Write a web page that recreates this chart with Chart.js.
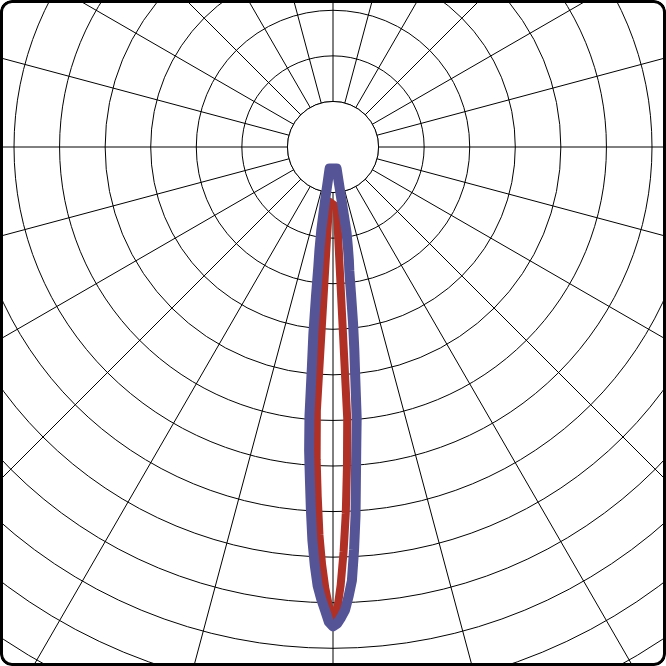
<!DOCTYPE html>
<html>
<head>
<meta charset="utf-8">
<script src="https://cdn.jsdelivr.net/npm/chart.js@4.4.1/dist/chart.umd.min.js"></script>
<style>
  html, body { margin: 0; padding: 0; background: #fff; }
  #frame { position: relative; width: 666px; height: 666px; overflow: hidden; border-radius: 12px; background: #fff; }
  #ldc { position: absolute; left: -305px; top: -491px; }
  #border { position: absolute; inset: 0; border: 3px solid #000; border-radius: 12px; box-sizing: border-box; pointer-events: none; }
</style>
</head>
<body>
<div id="frame">
  <canvas id="ldc" width="1277" height="1277"></canvas>
  <div id="border"></div>
</div>
<script>
// polar intensity diagram, 0.5 deg per label, 0 = straight down, negative = right
const angleStep = 0.5;
const ringStep = 50;
const ringMax = 700;

// C0-C180 plane (blue)
const c0Angles = [-9.5, -9, -8.5, -8, -7.5, -7, -6.5, -6, -5.5, -5, -4.5, -4, -3.5, -3, -2.5, -2, -1.5, -1, -0.5,
  0, 0.5, 1, 1.5, 2, 2.5, 3, 3.5, 4, 4.5, 5, 5.5, 6, 6.5, 7, 7.5, 8, 8.5, 9];
const c0Values = [24, 95, 110, 125, 137, 162, 194, 224, 255, 298, 326, 361, 405, 442, 476, 493, 508, 516, 523,
  526, 521, 508, 496, 482, 459, 432, 398, 364, 334, 296, 241, 206, 165, 132, 114, 93, 55, 24];

// C90-C270 plane (red)
const c90Angles = [-3.5, -3, -2.5, -2, -1.5, -1, -0.5, 0, 0.5, 1, 1.5, 2, 2.5, 3, 3.5, 4];
const c90Values = [66, 298, 351, 402, 444, 481, 509, 515, 504, 484, 458, 426, 384, 343, 290, 60];

const labelCount = Math.round(360 / angleStep);
const labels = [];
for (let i = 0; i < labelCount; i++) labels.push((i * angleStep) + '°');

function toSeries(angles, values) {
  const out = new Array(labelCount).fill(null);
  angles.forEach((a, k) => {
    const idx = (Math.round(a / angleStep) + labelCount) % labelCount;
    out[idx] = values[k];
  });
  return out;
}

// white hole in the middle, inner ring redrawn on top
const holePlugin = {
  id: 'hole',
  beforeDatasetsDraw(chart) {
    const r = chart.scales.r;
    const ctx = chart.ctx;
    const rad = r.getDistanceFromCenterForValue(ringStep);
    ctx.save();
    ctx.beginPath();
    ctx.arc(r.xCenter, r.yCenter, rad, 0, Math.PI * 2);
    ctx.fillStyle = '#fff';
    ctx.fill();
    ctx.lineWidth = 1;
    ctx.strokeStyle = '#000';
    ctx.stroke();
    ctx.restore();
  }
};

const ctx = document.getElementById('ldc').getContext('2d');
const chart = new Chart(ctx, {
  type: 'radar',
  data: {
    labels: labels,
    datasets: [{
      label: 'C0-C180',
      data: toSeries(c0Angles, c0Values),
      borderColor: 'rgb(85, 84, 150)',
      borderWidth: 10,
      backgroundColor: 'transparent',
      fill: false,
      pointRadius: 0,
      spanGaps: true,
      tension: 0,
      borderJoinStyle: 'round'
    }, {
      label: 'C90-C270',
      data: toSeries(c90Angles, c90Values),
      borderColor: 'rgb(176, 48, 38)',
      borderWidth: 8,
      backgroundColor: 'transparent',
      fill: false,
      pointRadius: 0,
      spanGaps: true,
      tension: 0,
      borderJoinStyle: 'round'
    }]
  },
  options: {
    responsive: false,
    animation: false,
    layout: { padding: 0 },
    plugins: { legend: { display: false }, tooltip: { enabled: false } },
    scales: {
      r: {
        min: 0,
        max: ringMax,
        startAngle: 180,
        ticks: { display: false, stepSize: ringStep },
        pointLabels: { display: false },
        grid: { circular: true, color: '#000', lineWidth: 1 },
        angleLines: {
          lineWidth: 1,
          color: (c) => (c.index % Math.round(15 / angleStep) === 0 ? '#000' : 'transparent')
        }
      }
    }
  },
  plugins: [holePlugin]
});
</script>
</body>
</html>
